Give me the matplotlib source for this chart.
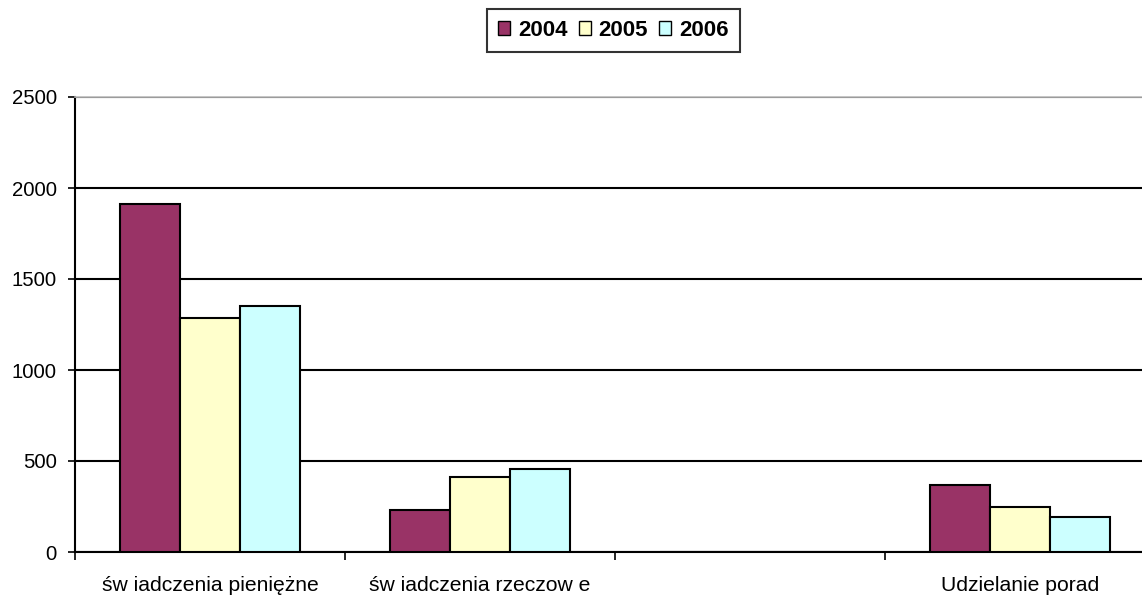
import numpy as np
import matplotlib.pyplot as plt
from matplotlib.patches import Patch

plt.rcParams['font.family'] = ['Liberation Sans', 'DejaVu Sans']

categories = ['św iadczenia pieniężne', 'św iadczenia rzeczow e', '', 'Udzielanie porad']
years = ['2004', '2005', '2006']
v2004 = [1910, 230, 0, 370]
v2005 = [1285, 412, 0, 248]
v2006 = [1350, 456, 0, 193]
colors = ['#993366', '#FFFFCC', '#CCFFFF']

fig = plt.figure(figsize=(11.42, 5.96), dpi=100)
ax = fig.add_axes([75 / 1142, 44 / 596, 1080 / 1142, 455 / 596])

x = np.arange(len(categories))
w = 0.2222
for i, (vals, c) in enumerate(zip([v2004, v2005, v2006], colors)):
    ax.bar(x + (i - 1) * w, vals, width=w, color=c, edgecolor='black', linewidth=1.5, zorder=3)

ax.set_xlim(-0.5, 3.5)
ax.set_ylim(0, 2500)
ax.set_yticks([0, 500, 1000, 1500, 2000, 2500])
ax.tick_params(axis='y', labelsize=14.7, length=5, width=1.2, pad=8)
ax.yaxis.grid(True, color='black', linewidth=1.5, zorder=0)
ax.set_axisbelow(True)

ax.set_xticks(x)
ax.set_xticklabels(categories, fontsize=15.2)
ax.set_xticks(np.arange(-0.5, 3.5, 1), minor=True)
ax.tick_params(axis='x', which='major', length=0, pad=17.5)
ax.tick_params(axis='x', which='minor', length=6, width=1.2)

ax.spines['left'].set_linewidth(1.5)
ax.spines['bottom'].set_linewidth(1.5)
ax.spines['top'].set_color('#bbbbbb')
ax.spines['top'].set_linewidth(1.2)
ax.spines['right'].set_visible(False)

handles = [Patch(facecolor=c, edgecolor='black', linewidth=1) for c in colors]
leg = fig.legend(handles, years, loc='center', bbox_to_anchor=(0.537, 0.949), ncol=3,
                 prop={'weight': 'bold', 'size': 16}, frameon=True, fancybox=False,
                 handlelength=0.55, handleheight=0.55, handletextpad=0.35, columnspacing=0.5,
                 borderpad=0.5, borderaxespad=0)
leg.get_frame().set_edgecolor('black')
leg.get_frame().set_linewidth(1.5)

fig.savefig('out.png', dpi=100)
